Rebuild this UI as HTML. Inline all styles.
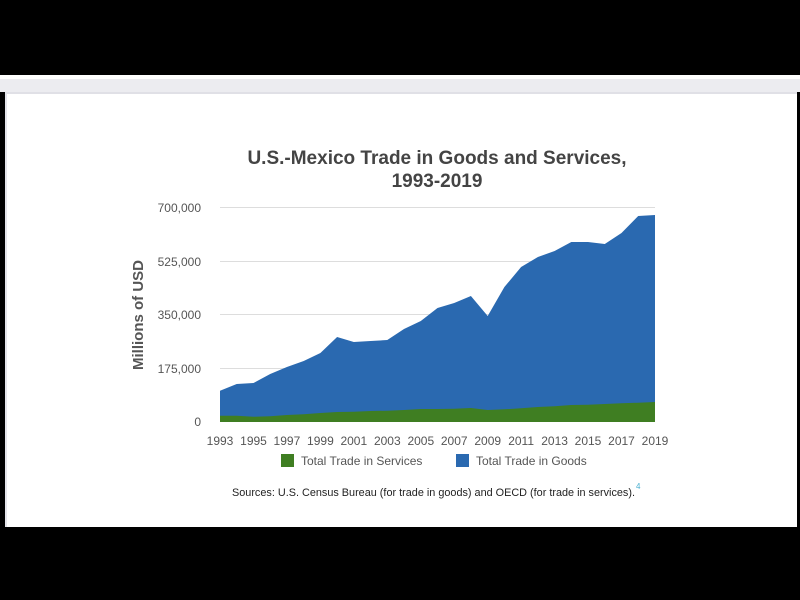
<!DOCTYPE html>
<html><head><style>
body{margin:0;width:800px;height:600px;background:#000;position:relative;overflow:hidden;font-family:"Liberation Sans",sans-serif}
.top{position:absolute;left:0;top:76px;width:800px;height:16px;background:#ececf0}
.card{position:absolute;left:5px;top:92px;width:790px;height:433px;background:#fff;border-left:2px solid #e4e4ea;border-top:2px solid #e0e0e6}
.strip{position:absolute;left:0;top:75px;width:800px;height:4px;background:#fff}
</style></head><body>
<div class="top"></div><div class="strip"></div>
<div class="card"></div>
<svg style="position:absolute;left:0;top:0" width="800" height="600">
<g font-family="Liberation Sans, sans-serif">
<text x="437" y="164" text-anchor="middle" font-size="19" font-weight="bold" fill="#444">U.S.-Mexico Trade in Goods and Services,</text>
<text x="437" y="187" text-anchor="middle" font-size="19" font-weight="bold" fill="#444">1993-2019</text>
<g stroke="#ddd" stroke-width="1">
<line x1="220" x2="655" y1="207.5" y2="207.5"/><line x1="220" x2="655" y1="261.5" y2="261.5"/>
<line x1="220" x2="655" y1="314.5" y2="314.5"/><line x1="220" x2="655" y1="368.5" y2="368.5"/>
</g>
<g font-size="12" fill="#555" text-anchor="end">
<text x="201" y="212">700,000</text><text x="201" y="266">525,000</text><text x="201" y="319">350,000</text><text x="201" y="373">175,000</text><text x="201" y="426">0</text>
</g>
<text transform="translate(143,315) rotate(-90)" text-anchor="middle" font-size="15" font-weight="bold" fill="#555">Millions of USD</text>
<polygon fill="#2a69b0" points="220,422 220,390.7 236.7,384 253.5,383 270.2,374 286.9,367 303.7,361 320.4,353 337.1,337 353.8,342 370.6,341 387.3,340 404,329 420.8,321 437.5,308 454.2,303 470.9,296 487.7,316 504.4,287 521.1,267 537.9,257 554.6,251 571.3,242 588,242 604.8,244 621.5,233 638.2,216 655,215 655,422"/>
<polygon fill="#3f7e22" points="220,422 220,415.7 236.7,415.7 253.5,416.7 270.2,416.3 286.9,415 303.7,414.3 320.4,413 337.1,412 353.8,411.7 370.6,411 387.3,410.7 404,410 420.8,409 437.5,409 454.2,408.7 470.9,408 487.7,410 504.4,409.3 521.1,408.3 537.9,407 554.6,406.3 571.3,405 588,404.7 604.8,404 621.5,403.3 638.2,402.7 655,402 655,422"/>
<g font-size="12" fill="#555" text-anchor="middle">
<text x="220" y="445">1993</text><text x="253.5" y="445">1995</text><text x="286.9" y="445">1997</text><text x="320.4" y="445">1999</text><text x="353.8" y="445">2001</text><text x="387.3" y="445">2003</text><text x="420.8" y="445">2005</text><text x="454.2" y="445">2007</text><text x="487.7" y="445">2009</text><text x="521.1" y="445">2011</text><text x="554.6" y="445">2013</text><text x="588" y="445">2015</text><text x="621.5" y="445">2017</text><text x="655" y="445">2019</text>
</g>
<rect x="281" y="454" width="13" height="13" fill="#3f7e22"/>
<text x="301" y="465" font-size="12" fill="#555">Total Trade in Services</text>
<rect x="456" y="454" width="13" height="13" fill="#2a69b0"/>
<text x="476" y="465" font-size="12" fill="#555">Total Trade in Goods</text>
<text x="232" y="496" font-size="11" fill="#222" textLength="403" lengthAdjust="spacingAndGlyphs">Sources: U.S. Census Bureau (for trade in goods) and OECD (for trade in services).</text>
<text x="636" y="489" font-size="8" fill="#4ab0d0">4</text>
</g>
</svg>
</body></html>
